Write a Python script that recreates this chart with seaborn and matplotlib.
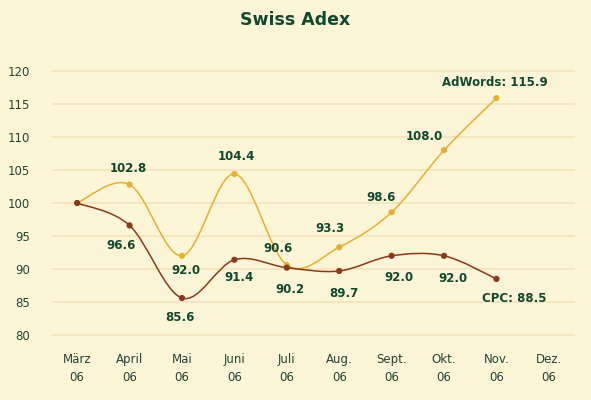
import matplotlib
matplotlib.use("Agg")
import matplotlib.pyplot as plt
import numpy as np
import pandas as pd
import seaborn as sns
from matplotlib.path import Path
from matplotlib.patches import PathPatch

# %% DATA
months = ["März\n06", "April\n06", "Mai\n06", "Juni\n06", "Juli\n06",
          "Aug.\n06", "Sept.\n06", "Okt.\n06", "Nov.\n06", "Dez.\n06"]
adwords = [100.0, 102.8, 92.0, 104.4, 90.6, 93.3, 98.6, 108.0, 115.9]
cpc = [100.0, 96.6, 85.6, 91.4, 90.2, 89.7, 92.0, 92.0, 88.5]
y_ticks = [80, 85, 90, 95, 100, 105, 110, 115, 120]

# label offsets in pixels (None = no label)
adwords_offsets = [None, (-1, 16), (4, -15), (2, 17), (-9, 17), (-9, 19),
                   (-11, 15), (-20, 14), (-2, 16)]
cpc_offsets = [None, (-9, -20), (-2, -19), (5, -18), (3, -22), (5, -23),
               (7, -22), (9, -23), (18, -20)]

BG = "#FDF5D8"
GOLD = "#E6B22E"
BROWN = "#8A3A18"
GREEN = "#0F4A2C"
TICK = "#244535"


def smooth_path(xs, ys):
    # Catmull-Rom spline through the points, as cubic Bezier segments
    pts = np.column_stack([xs, ys]).astype(float)
    ext = np.vstack([pts[0], pts, pts[-1]])
    verts = [tuple(pts[0])]
    codes = [Path.MOVETO]
    for i in range(len(pts) - 1):
        p0, p1, p2, p3 = ext[i], ext[i + 1], ext[i + 2], ext[i + 3]
        c1 = p1 + (p2 - p0) / 6
        c2 = p2 - (p3 - p1) / 6
        verts += [tuple(c1), tuple(c2), tuple(p2)]
        codes += [Path.CURVE4] * 3
    return Path(verts, codes)


df = pd.DataFrame({
    "x": list(range(len(adwords))) * 2,
    "value": adwords + cpc,
    "series": ["AdWords"] * len(adwords) + ["CPC"] * len(cpc),
})

# %% PLOT
sns.set_theme(style="white")
plt.rcParams["font.family"] = ["DejaVu Sans"]

fig = plt.figure(figsize=(5.91, 4.0), dpi=100, facecolor=BG)
ax = fig.add_axes([0.088, 0.146, 0.885, 0.693])
ax.set_facecolor(BG)

for yv in y_ticks:
    ax.axhline(yv, color="#F1E4BC", lw=1.2, zorder=0)

for vals, col in [(adwords, GOLD), (cpc, BROWN)]:
    patch = PathPatch(smooth_path(range(len(vals)), vals), facecolor="none",
                      edgecolor=col, lw=1.1, zorder=2)
    ax.add_patch(patch)

sns.scatterplot(data=df, x="x", y="value", hue="series",
                palette={"AdWords": GOLD, "CPC": BROWN}, marker="o",
                s=20, edgecolor="none", legend=False, ax=ax, zorder=3)

for vals, offs, name in [(adwords, adwords_offsets, "AdWords"),
                         (cpc, cpc_offsets, "CPC")]:
    for i, (v, off) in enumerate(zip(vals, offs)):
        if off is None:
            continue
        txt = f"{v:.1f}"
        if i == len(vals) - 1:
            txt = f"{name}: {v:.1f}"
        ax.annotate(txt, (i, v), xytext=off, textcoords="offset pixels",
                    ha="center", va="center", fontsize=8.5,
                    fontweight="bold", color=GREEN)

ax.set_xlim(-0.48, 9.5)
ax.set_ylim(79, 121)
ax.set_xticks(range(len(months)))
ax.set_xticklabels(months, fontsize=8.5, color=TICK, linespacing=1.5)
ax.set_yticks(y_ticks)
ax.set_yticklabels([str(t) for t in y_ticks], fontsize=8.5, color=TICK)
ax.tick_params(axis="x", length=0, pad=8)
ax.tick_params(axis="y", length=0, pad=16)
ax.set_xlabel("")
ax.set_ylabel("")
sns.despine(ax=ax, left=True, bottom=True)

fig.text(0.5, 0.95, "Swiss Adex", ha="center", va="center",
         fontsize=12.5, fontweight="bold", color=GREEN)

fig.savefig("out.png", dpi=100, facecolor=BG)
